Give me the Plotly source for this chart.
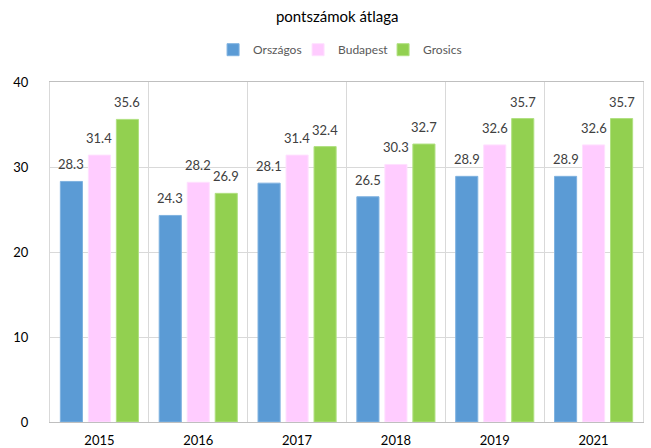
import plotly.graph_objects as go

years = ["2015", "2016", "2017", "2018", "2019", "2021"]
orszagos = [28.3, 24.3, 28.1, 26.5, 28.9, 28.9]
budapest = [31.4, 28.2, 31.4, 30.3, 32.6, 32.6]
grosics = [35.6, 26.9, 32.4, 32.7, 35.7, 35.7]

series = [
    ("Országos", orszagos, "#5B9BD5", "#7FB2E0"),
    ("Budapest", budapest, "#FFCCFF", "#FFE0FF"),
    ("Grosics", grosics, "#92D050", "#B0E080"),
]

FONT = "Lato, 'Open Sans', sans-serif"
SLOT_PX = 28  # horizontal distance between grouped bar centres

fig = go.Figure()
annotations = []
for i, (name, vals, col, lcol) in enumerate(series):
    fig.add_trace(go.Bar(
        name=name, x=years, y=vals,
        marker=dict(color=col, line=dict(color=lcol, width=1)),
        cliponaxis=False,
    ))
    for j, v in enumerate(vals):
        annotations.append(dict(
            x=j, y=v, xref="x", yref="y", text=f"{v:.1f}", showarrow=False,
            xshift=(i - 1) * SLOT_PX, yshift=7, yanchor="bottom",
            font=dict(size=13, color="#404040", family=FONT),
        ))

fig.update_layout(
    width=651, height=448,
    margin=dict(l=50, r=8, t=82, b=26, autoexpand=False),
    paper_bgcolor="white", plot_bgcolor="white",
    barmode="group", bargap=0.15, bargroupgap=0.21,
    font=dict(family=FONT, size=13, color="#000000"),
    title=dict(text="pontszámok átlaga", x=0.518, xanchor="center", y=0.963, yanchor="middle",
               font=dict(size=15, color="#000000", family=FONT)),
    legend=dict(orientation="h", x=0.49, xanchor="center", y=1.095, yanchor="middle",
                font=dict(size=12, color="#595959", family=FONT),
                itemwidth=30, entrywidth=40, traceorder="normal"),
    showlegend=True,
    annotations=annotations,
)
fig.update_xaxes(
    type="category", range=[-0.5, len(years) - 0.5], autorange=False,
    tickson="boundaries", showgrid=True, gridcolor="#D9D9D9", gridwidth=1,
    showline=True, linecolor="#BFBFBF", linewidth=1, mirror=True, automargin=False,
    ticks="", tickfont=dict(size=13, color="#000000"), ticklabelstandoff=6,
)
fig.update_yaxes(
    range=[0, 40], autorange=False, dtick=10, showgrid=True, gridcolor="#D9D9D9", gridwidth=1,
    showline=True, linecolor="#D9D9D9", linewidth=1, mirror=True, automargin=False,
    ticks="", tickfont=dict(size=13, color="#000000"), ticklabelstandoff=18,
    zeroline=False,
)

fig.write_html("out.html", config={"displayModeBar": False},
               post_script="document.body.style.margin='0';")
